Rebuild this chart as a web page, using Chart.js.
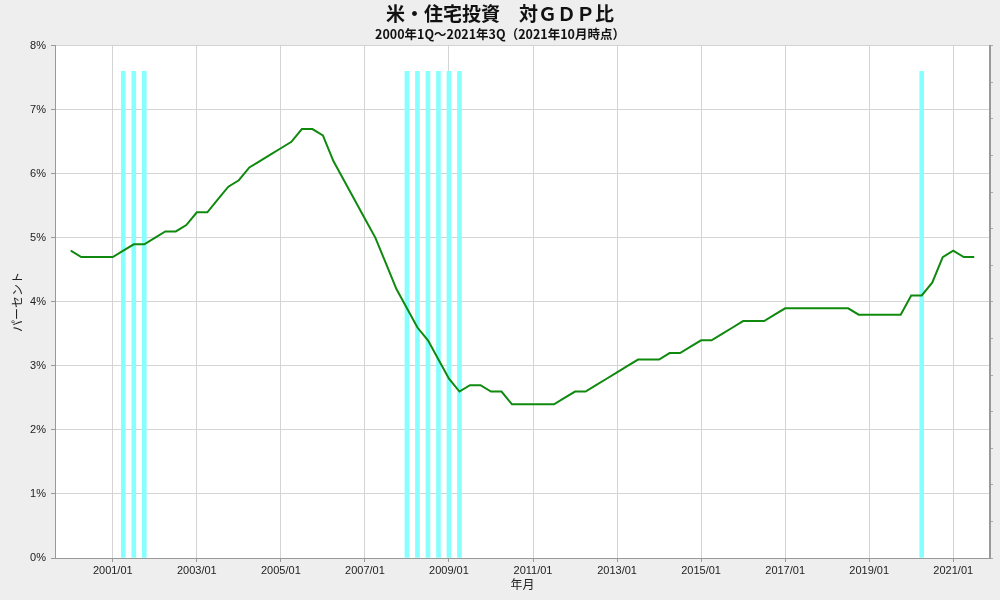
<!DOCTYPE html>
<html lang="ja">
<head>
  <meta charset="UTF-8" />
  <title>米・住宅投資 対GDP比</title>
  <script src="https://cdn.jsdelivr.net/npm/chart.js"></script>
  <style>
    html, body { margin: 0; padding: 0; background: #eeeeee; }
    #wrap { width: 1000px; height: 600px; }
  </style>
</head>
<body>
  <div id="wrap"><canvas id="chart" width="1000" height="600"></canvas></div>

  <script>
    // 四半期データ 2000Q1 ～ 2021Q3 (index 0 = 2000Q1)
    const ratio = [
      4.8, 4.7, 4.7, 4.7, 4.7, 4.8, 4.9, 4.9,   // 2000-2001
      5.0, 5.1, 5.1, 5.2, 5.4, 5.4, 5.6, 5.8,   // 2002-2003
      5.9, 6.1, 6.2, 6.3, 6.4, 6.5, 6.7, 6.7,   // 2004-2005
      6.6, 6.2, 5.9, 5.6, 5.3, 5.0, 4.6, 4.2,   // 2006-2007
      3.9, 3.6, 3.4, 3.1, 2.8, 2.6, 2.7, 2.7,   // 2008-2009
      2.6, 2.6, 2.4, 2.4, 2.4, 2.4, 2.4, 2.5,   // 2010-2011
      2.6, 2.6, 2.7, 2.8, 2.9, 3.0, 3.1, 3.1,   // 2012-2013
      3.1, 3.2, 3.2, 3.3, 3.4, 3.4, 3.5, 3.6,   // 2014-2015
      3.7, 3.7, 3.7, 3.8, 3.9, 3.9, 3.9, 3.9,   // 2016-2017
      3.9, 3.9, 3.9, 3.8, 3.8, 3.8, 3.8, 3.8,   // 2018-2019
      4.1, 4.1, 4.3, 4.7, 4.8, 4.7, 4.7         // 2020-2021Q3
    ];

    // 景気後退期（四半期 index）
    const recessionQuarters = [5, 6, 7, 32, 33, 34, 35, 36, 37, 81];
    const recessionTop = 7.6;

    // x軸目盛（四半期 index と表示ラベル）
    const tickQuarters = [4, 12, 20, 28, 36, 44, 52, 60, 68, 76, 84];
    const tickLabels = ['2001/01', '2003/01', '2005/01', '2007/01', '2009/01', '2011/01',
                        '2013/01', '2015/01', '2017/01', '2019/01', '2021/01'];

    const bgPlugin = {
      id: 'bg',
      beforeDraw(chart) {
        const { ctx, chartArea: a } = chart;
        ctx.save();
        ctx.fillStyle = '#eeeeee';
        ctx.fillRect(0, 0, chart.width, chart.height);
        ctx.fillStyle = '#ffffff';
        ctx.fillRect(a.left, a.top, a.right - a.left, a.bottom - a.top);
        ctx.restore();
      }
    };

    const tickFont = { family: '"Liberation Sans", Arial, sans-serif', size: 11 };
    const jpFont = '"Noto Sans CJK JP", sans-serif';

    new Chart(document.getElementById('chart'), {
      type: 'line',
      data: {
        datasets: [
          {
            label: '住宅投資 対GDP比',
            data: ratio.map((v, i) => ({ x: i, y: v })),
            borderColor: '#0f8a0f',
            borderWidth: 2,
            pointRadius: 0,
            tension: 0,
            order: 0
          },
          {
            type: 'bar',
            label: '景気後退期',
            data: recessionQuarters.map(q => ({ x: q, y: recessionTop })),
            backgroundColor: '#88ffff',
            borderWidth: 0,
            barThickness: 4,
            grouped: false,
            order: 1
          }
        ]
      },
      options: {
        responsive: false,
        animation: false,
        layout: { padding: { left: 0, right: 0, top: 0, bottom: 0 } },
        plugins: {
          legend: { display: false },
          tooltip: { enabled: false },
          title: {
            display: true,
            text: '米・住宅投資　対ＧＤＰ比',
            color: '#111',
            font: { family: jpFont, size: 19, weight: 'bold' },
            padding: { top: 2, bottom: 2 }
          },
          subtitle: {
            display: true,
            text: '2000年1Q～2021年3Q（2021年10月時点）',
            color: '#111',
            font: { family: jpFont, size: 12.5, weight: 'bold' },
            padding: { top: 0, bottom: 4 }
          }
        },
        scales: {
          x: {
            type: 'linear',
            min: -1.5,
            max: 87.5,
            offset: false,
            afterBuildTicks: scale => { scale.ticks = tickQuarters.map(v => ({ value: v })); },
            afterFit: scale => { scale.height = 42; },
            ticks: {
              autoSkip: false,
              maxRotation: 0,
              padding: 2,
              color: '#222',
              font: tickFont,
              callback: v => tickLabels[tickQuarters.indexOf(v)]
            },
            grid: { offset: false, color: '#d4d4d4', tickLength: 4, tickColor: '#999' },
            border: { color: '#999' },
            title: {
              display: true,
              text: '年月',
              color: '#222',
              font: { family: jpFont, size: 12 },
              padding: { top: 0, bottom: 8 }
            }
          },
          y: {
            min: 0,
            max: 8,
            afterFit: scale => { scale.width = 55; },
            ticks: {
              stepSize: 1,
              padding: 5,
              color: '#222',
              font: tickFont,
              callback: v => v + '%'
            },
            grid: { color: '#d4d4d4', tickLength: 4, tickColor: '#999' },
            border: { color: '#999' },
            title: {
              display: true,
              text: 'パーセント',
              color: '#222',
              font: { family: jpFont, size: 12 },
              padding: { top: 10, bottom: 0 }
            }
          },
          y2: {
            position: 'right',
            min: 0,
            max: 14,
            afterFit: scale => { scale.width = 10; },
            ticks: { stepSize: 1, display: false },
            grid: { drawOnChartArea: false, tickLength: 3, tickColor: '#aaa' },
            border: { color: '#999', width: 2 }
          }
        }
      },
      plugins: [bgPlugin]
    });
  </script>
</body>
</html>
